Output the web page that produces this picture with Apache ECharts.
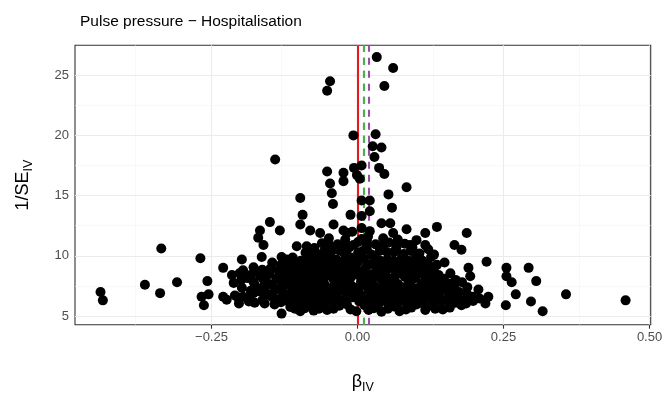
<!DOCTYPE html>
<html>
<head>
<meta charset="utf-8">
<script src="https://cdn.jsdelivr.net/npm/echarts@6/dist/echarts.min.js"></script>
<style>
html,body{margin:0;padding:0;background:#fff;}
#chart{width:665px;height:394px;}
</style>
</head>
<body>
<div id="chart"></div>
<script>
// ---- data: [beta_IV, 1/SE_IV] ----
const topPoints = [
  [0.033,26.5],[0.061,25.6],[-0.047,24.5],[-0.052,23.7],[0.046,24.1],
  [-0.007,20.0],[0.031,20.1],[0.026,19.1],[0.041,19.0],[0.029,18.2],[0.037,17.3],[0.046,16.8],
  [-0.141,18.0],[-0.052,17.0],[-0.024,16.9],[-0.006,17.3],[0.007,17.5],
  [-0.047,16.0],[-0.024,16.2],[0.004,16.4],[-0.001,16.7],[0.084,15.7],
  [-0.044,15.2],[0.053,15.1],[0.021,14.6],[0.007,14.6],[-0.098,14.8],
  [-0.042,14.3],[0.059,14.0],[0.021,13.7],[0.007,13.3],[-0.012,13.4],[-0.094,13.4]
];
const midPoints = [
  [-0.098,12.6],[-0.150,12.8],[-0.133,12.1],[-0.167,12.1],[-0.041,12.6],[0.041,12.7],[0.056,12.7],
  [0.136,12.4],[0.084,12.2],[0.007,12.3],[-0.081,12.1],[-0.064,11.9],[-0.024,12.1],[-0.018,11.9],
  [0.116,11.9],[0.187,11.9],[-0.170,11.5],[0.007,11.4],[0.018,11.6],
  [-0.161,10.9],[-0.104,10.8],[-0.087,10.8],[-0.007,10.9],[0.116,10.9],[0.090,10.9],[0.166,10.9],
  [0.178,10.5],[-0.056,10.3],[-0.024,10.3],
  [-0.164,9.9],[-0.198,9.7],[-0.130,9.9],[-0.121,9.7],[0.221,9.5],
  [-0.230,9.0],[-0.215,8.4],[-0.196,8.8],[0.190,9.0],[0.193,8.3],
  [-0.230,6.6],[-0.210,6.7],[-0.196,6.6],[-0.178,6.9],[-0.176,6.1],[-0.130,5.2],
  [0.207,7.2],[0.224,6.6],[0.178,5.9],[0.116,5.5],[0.133,5.6]
];
const leftTail = [
  [-0.440,7.0],[-0.436,6.3],[-0.336,10.6],[-0.364,7.6],[-0.338,6.9],[-0.309,7.8],
  [-0.269,9.8],[-0.257,7.9],[-0.267,6.6],[-0.255,6.8],[-0.263,5.9]
];
const rightTail = [
  [0.255,9.0],[0.293,9.0],[0.255,8.3],[0.264,7.8],[0.306,7.9],[0.271,6.8],
  [0.357,6.8],[0.254,5.9],[0.297,6.2],[0.317,5.4],[0.459,6.3]
];
const corePoints = [
  [-0.098,5.4],[-0.052,5.5],[0.041,5.35],[-0.09,5.65],
  [-0.115,5.75],[-0.082,5.9],[-0.066,5.6],[-0.031,5.85],[-0.012,5.55],[0.012,5.9],[0.028,5.65],[0.062,5.8],[0.083,5.55],[0.101,5.95],[0.127,5.85],[0.158,5.7],
  [-0.203,6.05],[-0.142,5.95],[-0.118,6.2],[-0.097,6.1],[-0.073,6.25],[-0.057,6.0],[-0.038,6.15],[-0.018,5.95],[0.003,6.2],[0.022,6.05],[0.047,6.25],[0.068,5.95],[0.092,6.15],[0.112,6.05],[0.143,6.2],[0.168,6.1],[0.198,6.25],[0.219,6.05],
  [-0.224,6.35],[-0.188,6.45],[-0.163,6.3],[-0.131,6.5],[-0.108,6.4],[-0.088,6.55],[-0.068,6.35],[-0.049,6.45],[-0.028,6.3],[-0.008,6.55],[0.012,6.4],[0.033,6.5],[0.052,6.3],[0.079,6.45],[0.103,6.35],[0.122,6.55],[0.152,6.4],[0.181,6.3],[0.209,6.45],
  [-0.152,6.75],[-0.127,6.65],[-0.103,6.85],[-0.083,6.7],[-0.062,6.8],[-0.041,6.65],[-0.017,6.85],[0.006,6.7],[0.024,6.9],[0.049,6.75],[0.072,6.65],[0.094,6.85],[0.117,6.7],[0.138,6.8],[0.162,6.65],[0.188,6.8],
  [-0.168,7.05],[-0.141,7.15],[-0.113,6.95],[-0.094,7.1],[-0.077,7.0],[-0.053,7.2],[-0.034,6.95],[-0.021,7.1],[0.002,7.0],[0.019,7.15],[0.041,7.0],[0.061,7.1],[0.087,6.95],[0.104,7.2],[0.128,7.05],[0.152,7.15],[0.174,7.0],
  [-0.198,7.35],[-0.161,7.45],[-0.133,7.3],[-0.112,7.5],[-0.088,7.35],[-0.066,7.45],[-0.046,7.3],[-0.024,7.5],[-0.004,7.35],[0.016,7.45],[0.036,7.3],[0.054,7.5],[0.077,7.4],[0.098,7.3],[0.121,7.45],[0.144,7.35],[0.166,7.5],[0.188,7.4],
  [-0.212,7.75],[-0.178,7.85],[-0.151,7.65],[-0.124,7.8],[-0.101,7.7],[-0.079,7.9],[-0.061,7.75],[-0.039,7.85],[-0.016,7.65],[0.006,7.85],[0.024,7.7],[0.051,7.8],[0.069,7.65],[0.091,7.9],[0.112,7.75],[0.134,7.85],[0.158,7.7],[0.179,7.8],
  [-0.188,8.15],[-0.166,8.3],[-0.139,8.1],[-0.116,8.25],[-0.091,8.1],[-0.069,8.2],[-0.051,8.35],[-0.029,8.1],[-0.011,8.25],[0.011,8.15],[0.031,8.3],[0.054,8.1],[0.081,8.25],[0.099,8.15],[0.126,8.3],[0.148,8.1],
  [-0.202,8.55],[-0.173,8.65],[-0.151,8.5],[-0.126,8.7],[-0.099,8.55],[-0.076,8.65],[-0.054,8.5],[-0.036,8.7],[-0.014,8.55],[0.004,8.65],[0.026,8.5],[0.046,8.7],[0.066,8.55],[0.089,8.65],[0.111,8.5],[0.131,8.7],[0.159,8.55],
  [-0.178,9.05],[-0.149,8.95],[-0.122,9.1],[-0.094,9.0],[-0.071,9.15],[-0.044,8.95],[-0.026,9.1],[-0.004,9.0],[0.016,9.15],[0.034,8.95],[0.061,9.1],[0.084,9.0],[0.106,9.15],[0.129,8.95],
  [-0.146,9.45],[-0.113,9.35],[-0.091,9.5],[-0.064,9.3],[-0.041,9.45],[-0.019,9.35],[0.001,9.5],[0.021,9.3],[0.044,9.45],[0.071,9.35],[0.094,9.5],[0.121,9.3],[0.149,9.45],
  [-0.111,9.85],[-0.081,9.75],[-0.059,9.9],[-0.036,9.7],[-0.011,9.85],[0.011,9.75],[0.029,9.9],[0.051,9.7],[0.076,9.85],[0.099,9.75],[0.126,9.9],
  [-0.089,10.25],[-0.068,10.1],[-0.046,10.3],[-0.019,10.15],[0.001,10.25],[0.024,10.1],[0.051,10.3],[0.079,10.15],[0.106,10.2],[0.131,10.1],
  [-0.074,10.65],[-0.041,10.5],[-0.014,10.7],[0.016,10.55],[0.039,10.65],[0.066,10.5],[0.094,10.7],[0.121,10.55],
  [-0.061,11.05],[-0.034,10.95],[0.001,11.15],[0.031,10.95],[0.054,11.1],[0.081,11.0],
  [-0.049,11.45],[-0.021,11.35],[0.016,11.3],[0.044,11.45],[0.069,11.35],[0.101,11.3],
  [-0.009,12.0],[0.021,12.05],[0.061,11.9]
];
const fillPoints = [
  [-0.107,5.6],[-0.075,5.45],[-0.041,5.6],[-0.002,5.4],[0.019,5.5],[0.052,5.6],[0.072,5.4],[0.092,5.7],[0.146,5.55],
  [-0.186,6.2],[-0.159,6.05],[-0.131,6.15],[-0.086,6.3],[-0.047,6.25],[-0.028,6.1],[0.011,6.15],[0.036,6.0],[0.057,6.15],[0.081,6.2],[0.102,6.2],[0.128,6.0],[0.157,6.15],[0.186,6.05],
  [-0.205,6.55],[-0.145,6.55],[-0.119,6.6],[-0.097,6.6],[-0.057,6.6],[-0.019,6.6],[0.023,6.65],[0.041,6.55],[0.063,6.6],[0.086,6.55],[0.108,6.6],[0.131,6.55],[0.171,6.5],[0.197,6.6],
  [-0.183,7.1],[-0.157,6.95],[-0.126,6.9],[-0.104,7.05],[-0.066,7.05],[-0.044,7.1],[-0.009,7.15],[0.031,7.1],[0.051,6.95],[0.074,7.0],[0.096,7.05],[0.117,6.95],[0.141,7.0],[0.163,7.25],
  [-0.176,7.6],[-0.146,7.55],[-0.121,7.6],[-0.099,7.55],[-0.076,7.6],[-0.056,7.6],[-0.033,7.65],[-0.011,7.55],[0.008,7.6],[0.028,7.55],[0.045,7.6],[0.066,7.55],[0.087,7.6],[0.109,7.55],[0.131,7.6],[0.153,7.55],
  [-0.199,8.0],[-0.161,8.05],[-0.131,7.95],[-0.109,8.0],[-0.086,7.95],[-0.059,8.0],[-0.041,8.05],[-0.019,8.0],[0.016,7.95],[0.041,8.05],[0.063,7.95],[0.089,8.0],[0.118,8.0],[0.141,7.95],[0.168,8.0],
  [-0.183,8.4],[-0.156,8.35],[-0.129,8.45],[-0.104,8.4],[-0.081,8.4],[-0.061,8.45],[-0.041,8.45],[-0.021,8.4],[0.001,8.4],[0.021,8.35],[0.041,8.4],[0.066,8.4],[0.091,8.4],[0.116,8.35],[0.139,8.4],
  [-0.163,8.85],[-0.136,8.8],[-0.111,8.85],[-0.086,8.8],[-0.061,8.85],[-0.021,8.85],[0.011,8.85],[0.051,8.85],[0.075,8.8],[0.098,8.85],[0.121,8.85],
  [-0.131,9.25],[-0.103,9.2],[-0.079,9.25],[-0.053,9.2],[-0.031,9.25],[-0.011,9.2],[0.031,9.2],[0.056,9.25],[0.081,9.2],[0.111,9.2],[0.136,9.25],
  [-0.097,9.6],[-0.071,9.6],[-0.047,9.6],[-0.024,9.6],[0.001,9.65],[0.039,9.6],[0.062,9.6],[0.087,9.6],[0.111,9.6],
  [-0.079,10.45],[-0.057,10.4],[-0.031,10.45],[0.009,10.4],[0.038,10.4],[0.063,10.35],[0.091,10.4],
  [-0.047,10.85],[-0.019,10.9],[0.016,10.85],[0.044,10.85],[0.067,10.8]
];
// reference lines (beta estimates)
const refLines = [
  { name: 'red',    x: -0.0036, color: '#E41A1C', dash: 'solid' },
  { name: 'blue',   x: 0.0080,  color: '#377EB8', dash: [7, 6] },
  { name: 'green',  x: 0.0057,  color: '#4DAF4A', dash: [7, 6] },
  { name: 'purple', x: 0.0194,  color: '#984EA3', dash: [7, 6] }
];
const xTicks = [-0.25, 0, 0.25, 0.5];
const xMinor = [-0.375, -0.125, 0.125, 0.375];
const yTicks = [5, 10, 15, 20, 25];
const yMinor = [7.5, 12.5, 17.5, 22.5];
const xRange = [-0.4837, 0.502];
const yRange = [4.28, 27.48];

const allPoints = [].concat(corePoints, fillPoints, midPoints, topPoints, leftTail, rightTail);

const FONT = 'Liberation Sans, Arial, sans-serif';
const gridLines = [];
xTicks.forEach(v => gridLines.push({ xAxis: v, lineStyle: { color: '#EBEBEB', width: 1.1, type: 'solid' } }));
xMinor.forEach(v => gridLines.push({ xAxis: v, lineStyle: { color: '#F3F3F3', width: 0.6, type: 'solid' } }));
yTicks.forEach(v => gridLines.push({ yAxis: v, lineStyle: { color: '#EBEBEB', width: 1.1, type: 'solid' } }));
yMinor.forEach(v => gridLines.push({ yAxis: v, lineStyle: { color: '#F3F3F3', width: 0.6, type: 'solid' } }));

function fmtX(v) {
  const s = Math.abs(v).toFixed(2);
  return v < 0 ? '\u2212' + s : s;
}

const chart = echarts.init(document.getElementById('chart'), null, { renderer: 'canvas' });
chart.setOption({
  animation: false,
  backgroundColor: '#ffffff',
  title: {
    text: 'Pulse pressure \u2212 Hospitalisation',
    left: 75, top: 9,
    textStyle: { fontFamily: FONT, fontSize: 15.5, fontWeight: 'normal', color: '#000' }
  },
  grid: {
    left: 75, right: 14.3, top: 45.3, bottom: 69.3,
    outerBoundsMode: 'none', containLabel: false,
    show: true, borderColor: '#333333', borderWidth: 1.1, backgroundColor: 'transparent'
  },
  xAxis: {
    type: 'value', min: xRange[0], max: xRange[1],
    name: '{a|\u03b2}{b|IV}',
    nameLocation: 'middle', nameGap: 45,
    nameTextStyle: {
      rich: {
        a: { fontFamily: FONT, fontSize: 18, color: '#000' },
        b: { fontFamily: FONT, fontSize: 12.5, color: '#000', padding: [11, 0, 0, 0] }
      }
    },
    axisLine: { show: false },
    splitLine: { show: false },
    axisTick: { show: true, customValues: xTicks, length: 4, lineStyle: { color: '#333333', width: 1.1 } },
    axisLabel: { customValues: xTicks, formatter: fmtX, margin: 6, fontFamily: FONT, fontSize: 13, color: '#4D4D4D' }
  },
  yAxis: {
    type: 'value', min: yRange[0], max: yRange[1],
    name: '{a|1/SE}{b|IV}',
    nameLocation: 'middle', nameGap: 40, nameRotate: 90,
    nameTextStyle: {
      rich: {
        a: { fontFamily: FONT, fontSize: 18, color: '#000' },
        b: { fontFamily: FONT, fontSize: 12.5, color: '#000', padding: [11, 0, 0, 0] }
      }
    },
    axisLine: { show: false },
    splitLine: { show: false },
    axisTick: { show: true, customValues: yTicks, length: 4, lineStyle: { color: '#333333', width: 1.1 } },
    axisLabel: { customValues: yTicks, margin: 6, fontFamily: FONT, fontSize: 13, color: '#4D4D4D' }
  },
  series: [
    {
      type: 'scatter', data: [], zlevel: 0, z: 0, silent: true,
      markLine: { silent: true, symbol: 'none', label: { show: false }, animation: false, data: gridLines }
    },
    {
      type: 'scatter', data: allPoints, zlevel: 1, z: 3,
      symbol: 'circle', symbolSize: 10,
      itemStyle: { color: '#000000', opacity: 1 }
    },
    {
      type: 'scatter', data: [], zlevel: 2, z: 5, silent: true,
      markLine: {
        silent: true, symbol: 'none', label: { show: false }, animation: false,
        data: refLines.map(l => ({ xAxis: l.x, lineStyle: { color: l.color, width: 2.1, type: l.dash } }))
      }
    }
  ]
});
</script>
</body>
</html>
